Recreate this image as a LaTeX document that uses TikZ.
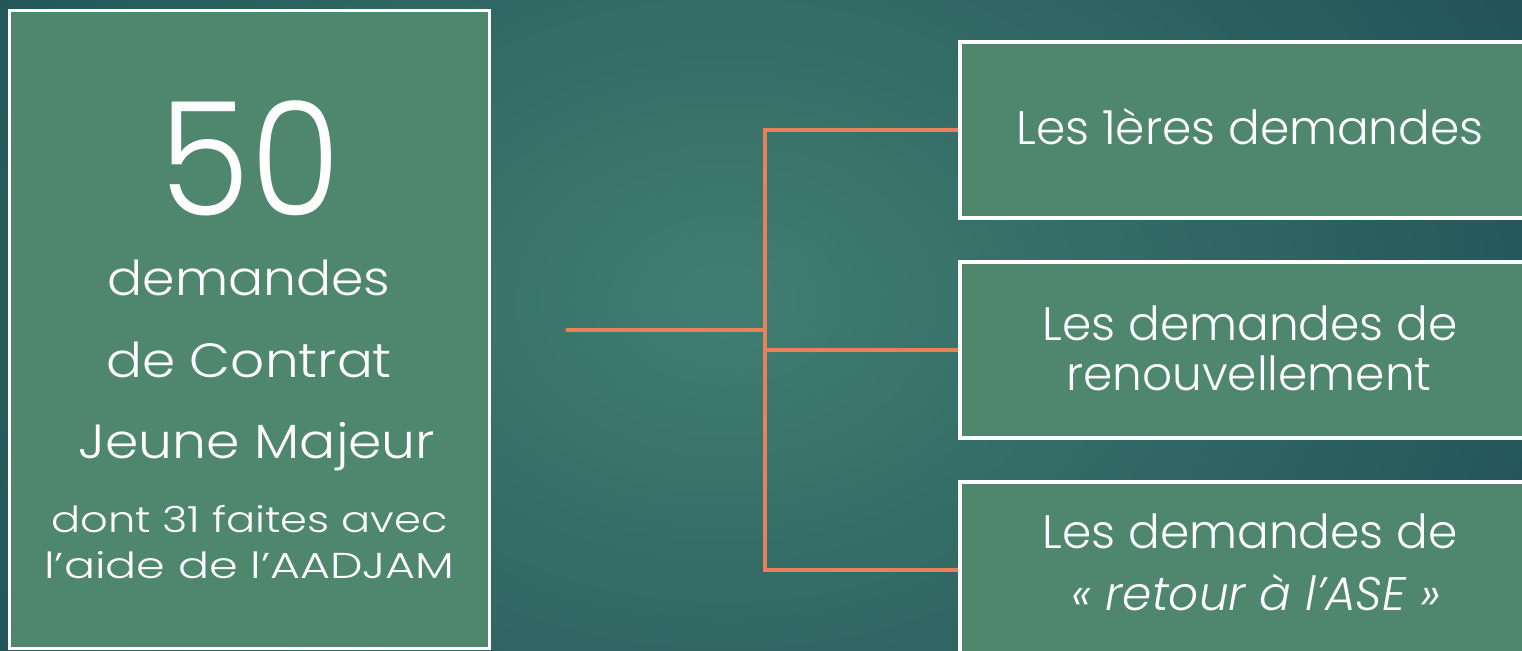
\documentclass[tikz,border=0pt]{standalone}
\usepackage{graphicx}
\usepackage{fontspec}
\setmainfont{Poppins}[UprightFont=* Light, ItalicFont=* Light Italic]
\usetikzlibrary{calc}
\definecolor{bgcenter}{RGB}{65,126,114}
\definecolor{bgedge}{RGB}{34,84,88}
\definecolor{boxfill}{RGB}{78,135,110}
\definecolor{linkorange}{RGB}{232,128,88}
\tikzset{
  panel/.style={draw=white, line width=3.5pt, fill=boxfill, rectangle, inner sep=0pt},
  label/.style={text=white, anchor=base, inner sep=0pt, align=center},
  conn/.style={draw=linkorange, line width=3.5pt, line cap=round, line join=miter},
}
% font size in pt, with equal baseline skip
\newcommand{\fs}[1]{\fontsize{#1}{#1}\selectfont}
% horizontally widened text
\newcommand{\wide}[2]{\scalebox{#1}[1]{#2}}
\begin{document}
\begin{tikzpicture}[x=1pt, y=-1pt]
  \useasboundingbox (0,0) rectangle (1522,650);
  \clip (0,0) rectangle (1522,650);
  % background
  \shade[inner color=bgcenter, outer color=bgedge] (-150,-350) rectangle (1600,950);

  % left summary panel
  \node[panel, minimum width=480pt, minimum height=638pt] (total) at (249.5,329.5) {};
  \node[label, font=\fs{158}] (num) at (250,215) {\wide{0.93}{50}};
  \node[label, font=\fs{48}] (l1) at (249,295) {\wide{1.085}{demandes}};
  \node[label, font=\fs{48}] (l2) at (249,377) {\wide{1.11}{de Contrat}};
  \node[label, font=\fs{48}] (l3) at (257,458) {\wide{1.117}{Jeune Majeur}};
  \node[label, font=\fs{36}] (l4) at (249.5,532) {\wide{1.2}{dont 31 faites avec}};
  \node[label, font=\fs{36}] (l5) at (249.5,578) {\wide{1.28}{l’aide de l’AADJAM}};

  % right category panels
  \node[panel, minimum width=600pt, minimum height=176pt] (r1) at (1260,130) {};
  \node[panel, minimum width=600pt, minimum height=176pt] (r2) at (1260,350) {};
  \node[panel, minimum width=600pt, minimum height=176pt] (r3) at (1260,570) {};

  \node[label, font=\fs{47}] (t1) at (1250,144) {Les 1ères demandes};
  \node[label, font=\fs{47}] (t2a) at (1250,340) {Les demandes de};
  \node[label, font=\fs{47}] (t2b) at (1249,390) {renouvellement};
  \node[label, font=\fs{47}] (t3a) at (1250,548) {Les demandes de};
  \node[label, font=\fs{47}\itshape] (t3b) at (1256,610) {« retour à l’ASE »};

  % connectors
  \coordinate (stub) at (567,330);
  \coordinate (trunk) at (765,330);
  \draw[conn] (stub) -- (trunk);
  \draw[conn, line cap=butt] (r1.west) -- (r1.west -| trunk) -- (r3.west -| trunk) -- (r3.west);
  \draw[conn, line cap=butt] (trunk |- r2.west) -- (r2.west);
\end{tikzpicture}
\end{document}
